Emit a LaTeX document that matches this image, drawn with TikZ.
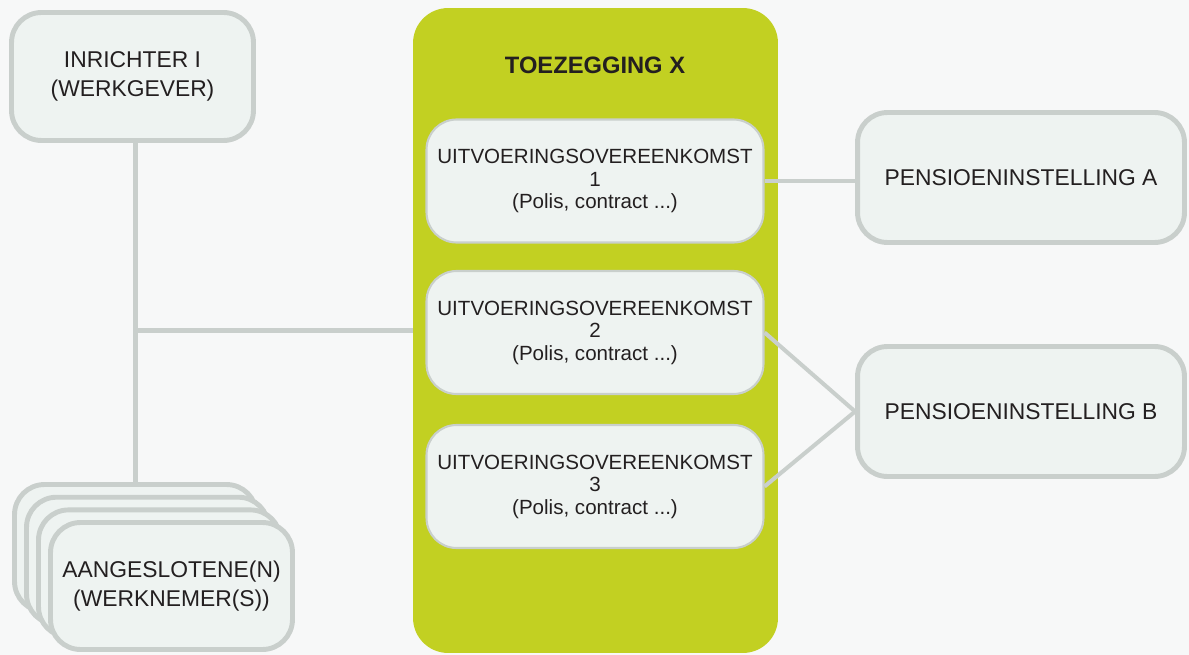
\documentclass[tikz,border=0pt]{standalone}
\usepackage{fontspec}
\setmainfont{Liberation Sans}
\definecolor{paper}{HTML}{F7F8F8}
\definecolor{boxfill}{HTML}{EEF3F1}
\definecolor{rim}{HTML}{C9CFCC}
\definecolor{lime}{HTML}{C2D022}
\definecolor{ink}{HTML}{231F20}
\begin{document}
\begin{tikzpicture}[x=0.02cm, y=-0.02cm,
  every node/.style = {align=center, text=ink},
  box/.style = {shape=rectangle, rounded corners=0.6cm, draw=rim,
    line width=2.8pt, fill=boxfill, font=\fontsize{13}{16.8}\selectfont},
  bigbox/.style = {box, minimum width=4.84cm, minimum height=2.54cm},
  subbox/.style = {box, line width=1.2pt, minimum width=6.74cm,
    minimum height=2.46cm, font=\fontsize{11.7}{12.8}\selectfont},
  instbox/.style = {box, minimum width=6.54cm, minimum height=2.6cm},
  link/.style = {draw=rim, line width=2.3pt}]
  \fill[paper] (0,0) rectangle (1189,655);

  % toezegging met uitvoeringsovereenkomsten
  \node[fill=lime, rounded corners=0.7cm, minimum width=7.3cm,
    minimum height=12.9cm] (toez) at (595.5,330.5) {};
  \node[font=\fontsize{13.5}{16}\selectfont\bfseries] (toeztitle) at (595,65) {TOEZEGGING X};
  \node[subbox] (uit1) at (595,181) {UITVOERINGSOVEREENKOMST\\1\\(Polis, contract ...)};
  \node[subbox] (uit2) at (595,332.5) {UITVOERINGSOVEREENKOMST\\2\\(Polis, contract ...)};
  \node[subbox] (uit3) at (595,486.5) {UITVOERINGSOVEREENKOMST\\3\\(Polis, contract ...)};

  % inrichter en aangeslotenen
  \node[bigbox, minimum height=2.56cm] (inr) at (132.5,76.5) {INRICHTER I\\(WERKGEVER)};
  \foreach \i in {0,1,2}
    \node[bigbox] (stack\i) at ({135.5+12*\i},{548+12.7*\i}) {};
  \node[bigbox, font=\fontsize{13}{16.2}\selectfont] (stack3) at (171.5,586)
    {AANGESLOTENE(N)\\(WERKNEMER(S))};

  % pensioeninstellingen
  \node[instbox] (pensA) at (1021,177.5) {PENSIOENINSTELLING A};
  \node[instbox] (pensB) at (1021,411.5) {PENSIOENINSTELLING B};

  % verbindingen
  \coordinate (hub) at (stack0.north |- toez.west);
  \draw[link] (inr.south -| stack0.north) -- (stack0.north);
  \draw[link] (hub) -- (toez.west);
  \draw[link] (uit1.east) -- (uit1.east -| pensA.west);
  \draw[link] (uit2.east) -- (pensB.west);
  \draw[link] (uit3.east) -- (pensB.west);
\end{tikzpicture}
\end{document}
